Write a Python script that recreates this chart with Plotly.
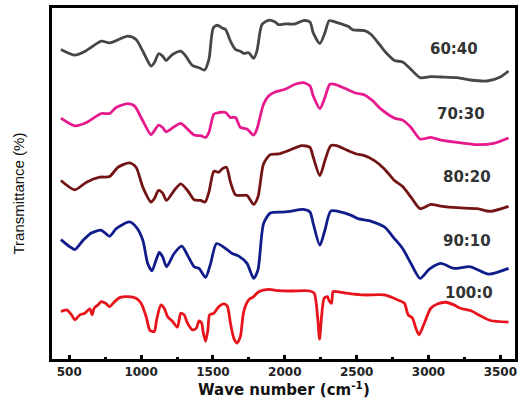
import plotly.graph_objects as go

# FTIR spectra (wavenumber cm^-1, transmittance arbitrary offset units)
wn_6040 = [442,539,620,723,781,908,965,1012,1069,1092,1122,1150,1173,1219,1276,1311,1357,1403,1442,1472,1502,1530,1564,1588,1622,1657,1691,1714,1749,1783,1806,1841,1887,1933,1956,2002,2071,2129,2175,2198,2244,2279,2309,2348,2394,2440,2475,2555,2601,2659,2705,2763,2820,2878,2942,3016,3085,3200,3292,3408,3500,3557]
t_6040 = [93.3,91.6,93.0,95.8,95.3,97.3,96.3,92.8,88.3,89.3,92.0,91.3,90.0,91.8,92.8,91.3,88.5,87.8,87.1,90.3,99.8,100.6,99.8,99.3,95.8,93.3,92.8,92.1,92.3,90.6,92.8,100.8,102.1,101.6,100.8,101.0,101.0,102.0,101.6,98.3,95.1,98.3,102.0,101.6,101.0,100.3,99.2,99.0,97.8,94.8,92.3,90.0,89.5,87.3,84.8,85.1,85.0,84.8,84.1,83.8,85.0,86.8]

wn_7030 = [442,539,620,723,781,827,908,954,1000,1069,1092,1122,1150,1173,1230,1276,1323,1369,1415,1449,1472,1507,1541,1588,1622,1657,1691,1737,1783,1806,1852,1887,1933,2002,2071,2129,2175,2198,2244,2279,2313,2348,2417,2498,2555,2613,2670,2763,2820,2878,2942,3016,3085,3200,3339,3454,3557]
t_7030 = [72.6,70.3,71.3,74.0,74.0,75.8,77.0,76.3,72.8,67.6,68.8,70.5,69.8,68.5,70.0,71.0,69.3,67.5,67.3,66.8,68.3,73.8,74.3,74.3,72.8,72.8,69.8,69.3,67.5,69.3,76.8,79.3,80.5,81.3,82.8,83.3,82.3,79.3,75.5,78.8,82.8,82.8,81.6,80.1,79.6,77.8,75.3,72.6,72.0,69.8,66.3,66.8,66.0,65.3,64.6,65.0,66.6]

wn_8020 = [442,539,620,712,781,839,919,965,1012,1069,1092,1122,1150,1177,1230,1276,1323,1369,1415,1445,1472,1507,1541,1564,1594,1622,1657,1703,1737,1783,1813,1852,1899,1956,2025,2117,2175,2198,2244,2279,2320,2359,2440,2498,2555,2624,2693,2763,2820,2878,2942,3016,3085,3200,3339,3431,3557]
t_8020 = [53.8,51.0,53.3,54.8,55.0,57.8,59.1,57.8,51.8,47.3,48.3,50.8,50.0,47.8,50.8,52.8,50.8,48.0,47.8,47.3,50.3,56.6,56.3,57.3,57.8,53.3,49.5,49.3,49.3,46.6,48.8,58.8,61.6,61.8,62.8,64.3,63.8,60.8,55.3,59.8,64.3,64.3,62.8,61.8,61.3,59.8,57.3,53.8,52.0,48.8,45.3,46.6,46.1,45.6,45.3,44.5,46.0]

wn_9010 = [442,505,539,597,654,723,781,827,919,965,1012,1046,1076,1104,1127,1150,1177,1230,1283,1323,1369,1403,1449,1484,1525,1588,1634,1680,1737,1783,1813,1852,1899,1979,2048,2129,2175,2198,2244,2279,2320,2394,2463,2509,2601,2693,2763,2820,2878,2942,3004,3085,3177,3292,3419,3557]
t_9010 = [36.0,33.8,33.0,35.8,38.0,38.8,37.0,39.3,41.3,39.8,35.8,28.8,26.6,29.8,32.1,30.8,27.8,31.8,34.0,31.3,27.8,27.3,24.6,28.8,34.8,33.3,31.8,31.0,28.8,24.3,26.8,40.8,44.0,44.3,44.6,45.1,44.3,40.8,34.3,38.8,44.6,44.3,43.3,42.3,41.5,39.8,36.3,33.3,28.8,24.3,27.0,28.8,27.3,27.8,25.6,27.3]

wn_1000 = [442,482,516,539,574,608,643,659,673,700,723,753,781,816,850,908,965,1000,1035,1062,1092,1108,1138,1161,1184,1219,1253,1276,1300,1323,1357,1385,1403,1422,1431,1449,1465,1477,1507,1541,1576,1599,1622,1645,1668,1691,1714,1749,1783,1818,1887,1956,2048,2175,2205,2228,2242,2256,2274,2297,2309,2325,2336,2359,2440,2555,2693,2786,2832,2859,2889,2912,2935,2971,3016,3062,3120,3177,3223,3292,3362,3431,3557]
t_1000 = [14.3,14.8,13.3,11.8,13.3,13.8,15.1,13.3,15.3,16.3,17.3,16.8,15.8,17.3,18.5,18.8,18.3,16.8,12.8,8.6,8.3,11.8,16.3,15.3,12.8,11.3,9.6,13.8,13.3,10.8,8.8,9.3,11.5,10.8,8.3,5.3,8.8,13.3,13.8,15.8,16.6,16.0,10.8,6.3,4.8,6.8,14.3,17.8,18.8,20.3,21.0,20.6,20.5,20.5,19.8,12.8,6.0,12.8,18.3,18.8,17.5,16.8,20.3,20.3,19.8,19.3,19.3,17.8,16.8,13.3,12.3,9.3,7.3,10.8,15.3,16.6,17.1,16.3,15.3,14.6,13.0,11.6,11.1]

series_names = ["60:40", "70:30", "80:20", "90:10", "100:0"]
series_wn = [wn_6040, wn_7030, wn_8020, wn_9010, wn_1000]
series_t = [t_6040, t_7030, t_8020, t_9010, t_1000]
colors = ["#474747", "#e6198e", "#731414", "#101c8a", "#e8141c"]
label_pos = [(3177, 93.3), (3223, 73.8), (3270, 54.8), (3270, 35.5), (3281, 19.8)]

fig = go.Figure()
for name, wn, t, c in zip(series_names, series_wn, series_t, colors):
    fig.add_trace(go.Scatter(x=wn, y=t, mode="lines", name=name,
                             line=dict(color=c, width=2.8, shape="spline", smoothing=0.7)))

for name, (lx, ly) in zip(series_names, label_pos):
    fig.add_annotation(x=lx, y=ly, text=name, showarrow=False,
                       font=dict(family="DejaVu Sans", size=15, color="#333333", weight="bold"),
                       xanchor="center", yanchor="middle")

fig.add_annotation(xref="paper", yref="paper", x=0.5, y=-0.086,
                   text="Wave number (cm<sup>-1</sup>)", showarrow=False,
                   font=dict(family="DejaVu Sans", size=15, color="#111111", weight="bold"),
                   xanchor="center", yanchor="middle")
fig.add_annotation(xref="paper", yref="paper", x=-0.073, y=0.472, textangle=-90,
                   text="Transmittance (%)", showarrow=False,
                   font=dict(family="Liberation Sans", size=15, color="#111111"),
                   xanchor="center", yanchor="middle")

fig.update_layout(
    width=523, height=400,
    margin=dict(l=52, r=5, t=7, b=41),
    paper_bgcolor="white", plot_bgcolor="white",
    showlegend=False,
    xaxis=dict(range=[380, 3602], showgrid=False, zeroline=False,
               showline=True, linecolor="black", linewidth=3, mirror=True,
               ticks="inside", ticklen=4, tickwidth=2.5, tickcolor="black",
               dtick=500, tick0=0,
               minor=dict(ticks="inside", ticklen=2, tickwidth=2.5, dtick=250, tickcolor="black"),
               tickfont=dict(family="DejaVu Sans", size=12, color="#222222", weight="bold")),
    yaxis=dict(range=[0, 105.8], showgrid=False, zeroline=False,
               showline=True, linecolor="black", linewidth=3, mirror=True,
               showticklabels=False, ticks=""),
)

fig.write_html("out.html")
